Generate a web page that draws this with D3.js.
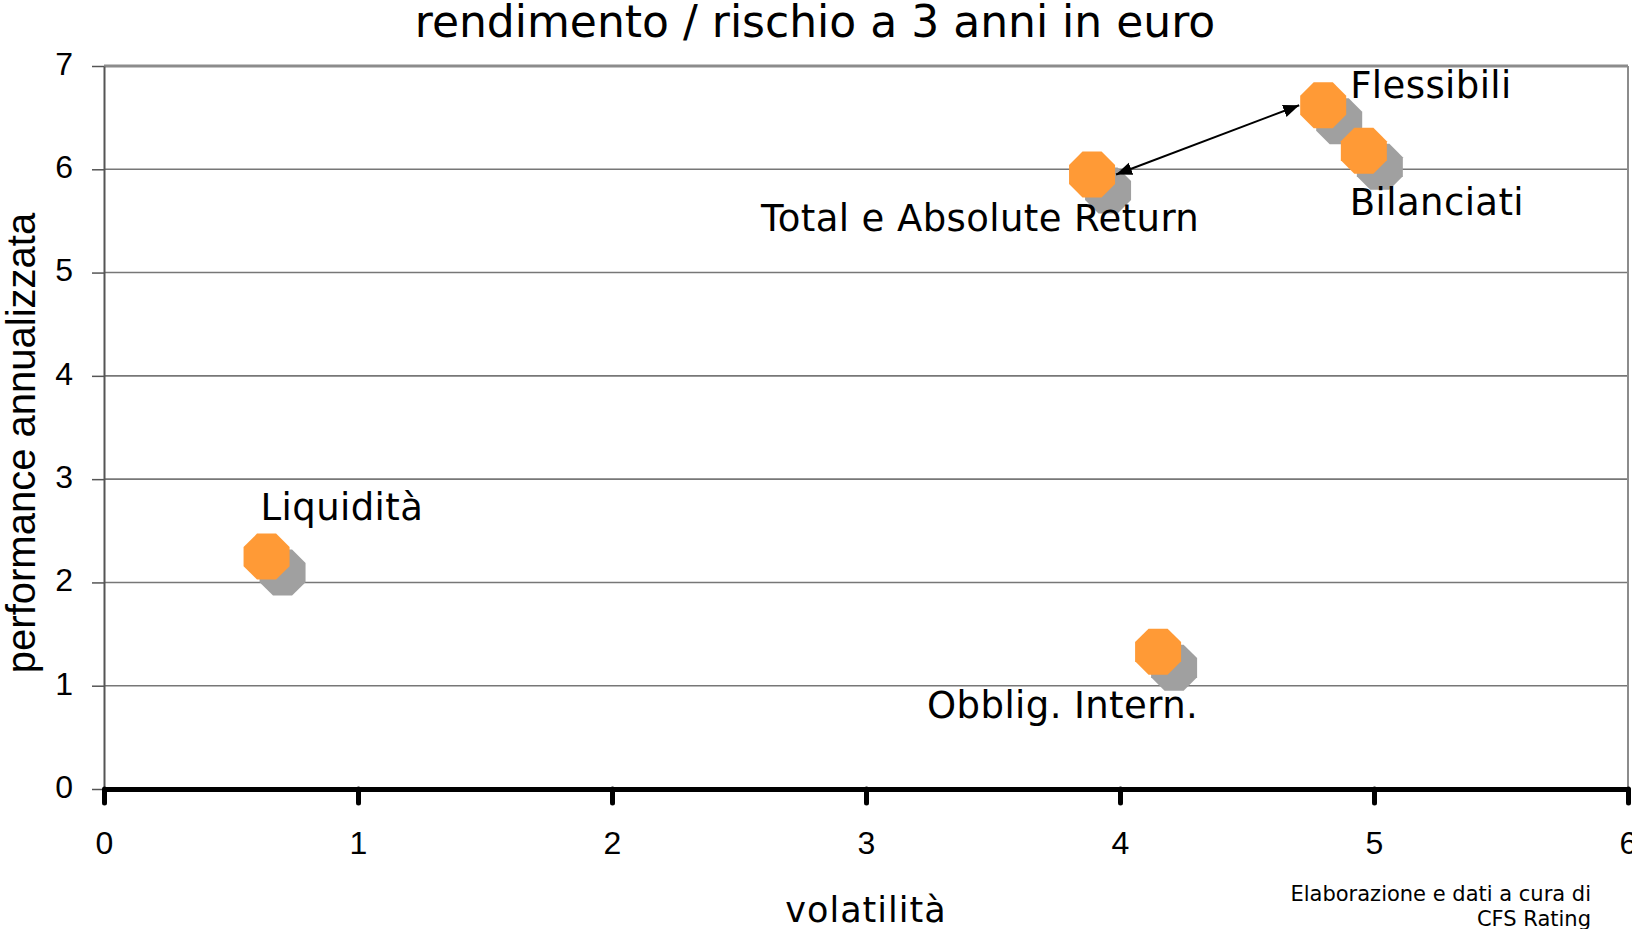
<!DOCTYPE html>
<html lang="it">
<head>
  <meta charset="UTF-8" />
  <title>rendimento / rischio a 3 anni in euro</title>
  <script src="https://d3js.org/d3.v7.min.js"></script>
  <style>
    body {margin: 0; background: #fff;}
    svg {display: block;}
  </style>
</head>
<body>
<script>
  // ****DATA****
  const categories = ["Liquidità", "Obblig. Intern.", "Total e Absolute Return", "Flessibili", "Bilanciati"];
  const volatility = [0.64, 4.15, 3.89, 4.80, 4.96];
  const performance = [2.25, 1.33, 5.95, 6.62, 6.18];
  const xTicks = [0, 1, 2, 3, 4, 5, 6];
  const yTicks = [0, 1, 2, 3, 4, 5, 6, 7];
  const arrowPair = ["Total e Absolute Return", "Flessibili"];

  // label placement relative to each marker (pixels)
  const labelDx = [-6, -231, -331, 27, -14];
  const labelDy = [-37, 66, 57, -7, 64];

  const width = 1632, height = 929;
  const paddingLeft = 104, paddingRight = 4, paddingTop = 66, paddingBottom = 140;
  const arial = "'Liberation Sans', Arial, sans-serif";
  const verdana = "'DejaVu Sans', Verdana, sans-serif";

  const svg = d3.select("body").append("svg")
                .attr("width", width)
                .attr("height", height);

  // ****SCALES****
  const xScale = d3.scaleLinear().domain([0, 6]).range([paddingLeft, width - paddingRight]);
  const yScale = d3.scaleLinear().domain([0, 7]).range([height - paddingBottom, paddingTop]);

  // ****GRIDLINES****
  svg.append("g")
     .selectAll("line")
     .data(yTicks.filter(d => d > 0))
     .join("line")
     .attr("x1", xScale(0))
     .attr("x2", xScale(6))
     .attr("y1", d => yScale(d))
     .attr("y2", d => yScale(d))
     .attr("stroke", d => d === 7 ? "#8c8c8c" : "#777")
     .attr("stroke-width", d => d === 7 ? 3 : 1.6);

  // right border of the plot area
  svg.append("line")
     .attr("x1", xScale(6)).attr("x2", xScale(6))
     .attr("y1", yScale(7)).attr("y2", yScale(0))
     .attr("stroke", "#8c8c8c").attr("stroke-width", 2);

  // ****Y AXIS****
  const yAxis = d3.axisLeft(yScale).tickValues(yTicks).tickFormat(d3.format("d"))
                  .tickSize(12).tickPadding(19).tickSizeOuter(0);
  const gy = svg.append("g")
                .attr("transform", `translate(${paddingLeft}, 0)`)
                .call(yAxis);
  gy.select(".domain").attr("stroke", "#555").attr("stroke-width", 2);
  gy.selectAll(".tick line").attr("stroke", "#555").attr("stroke-width", 1.5);
  gy.selectAll(".tick text")
    .attr("font-family", arial)
    .attr("font-size", 32)
    .attr("fill", "#000")
    .attr("dy", "0.26em");

  // ****X AXIS****
  const xAxis = d3.axisBottom(xScale).tickValues(xTicks).tickFormat(d3.format("d"))
                  .tickSize(14).tickPadding(28).tickSizeOuter(0);
  const gx = svg.append("g")
                .attr("transform", `translate(0, ${height - paddingBottom})`)
                .call(xAxis);
  gx.select(".domain").attr("stroke", "#000").attr("stroke-width", 5);
  gx.selectAll(".tick line").attr("stroke", "#000").attr("stroke-width", 5).attr("stroke-linecap", "round");
  gx.selectAll(".tick text")
    .attr("font-family", arial)
    .attr("font-size", 32)
    .attr("fill", "#000");

  // ****MARKERS****
  const points = categories.map((c, i) => ({name: c, x: volatility[i], y: performance[i], i: i}));
  const R = 24.9;
  const octagon = d3.range(8).map(k => {
    const a = (22.5 + k * 45) * Math.PI / 180;
    return [R * Math.cos(a), R * Math.sin(a)];
  });
  const octPath = d3.line()(octagon) + "Z";

  // grey shadow
  svg.append("g").selectAll("path")
     .data(points)
     .join("path")
     .attr("d", octPath)
     .attr("transform", d => `translate(${xScale(d.x) + 16}, ${yScale(d.y) + 16})`)
     .attr("fill", "#a0a0a0");

  svg.append("g").selectAll("path")
     .data(points)
     .join("path")
     .attr("d", octPath)
     .attr("transform", d => `translate(${xScale(d.x)}, ${yScale(d.y)})`)
     .attr("fill", "#ff9a36");

  // ****ARROW****
  const defs = svg.append("defs");
  ["start", "end"].forEach(k => {
    defs.append("marker")
        .attr("id", "arrow-" + k)
        .attr("viewBox", "0 0 10 10")
        .attr("refX", k === "end" ? 10 : 0)
        .attr("refY", 5)
        .attr("markerWidth", 8)
        .attr("markerHeight", 8)
        .attr("markerUnits", "strokeWidth")
        .attr("orient", "auto")
        .append("path")
        .attr("d", k === "end" ? "M0,1 L10,5 L0,9 Z" : "M10,1 L0,5 L10,9 Z")
        .attr("fill", "#000");
  });
  const pA = points.find(d => d.name === arrowPair[0]);
  const pB = points.find(d => d.name === arrowPair[1]);
  svg.append("line")
     .attr("x1", xScale(pA.x) + 24).attr("y1", yScale(pA.y))
     .attr("x2", xScale(pB.x) - 24).attr("y2", yScale(pB.y))
     .attr("stroke", "#000").attr("stroke-width", 2)
     .attr("marker-start", "url(#arrow-start)")
     .attr("marker-end", "url(#arrow-end)");

  // ****LABELS****
  svg.append("g").selectAll("text")
     .data(points)
     .join("text")
     .attr("x", d => xScale(d.x) + labelDx[d.i])
     .attr("y", d => yScale(d.y) + labelDy[d.i])
     .attr("font-family", verdana)
     .attr("font-size", 37)
     .attr("letter-spacing", 0.4)
     .attr("fill", "#000")
     .text(d => d.name);

  // ****TITLES****
  svg.append("text")
     .attr("x", 815).attr("y", 37)
     .attr("text-anchor", "middle")
     .attr("font-family", verdana)
     .attr("font-size", 44)
     .text("rendimento / rischio a 3 anni in euro");

  svg.append("text")
     .attr("x", xScale(3)).attr("y", 922)
     .attr("text-anchor", "middle")
     .attr("font-family", verdana)
     .attr("font-size", 35)
     .attr("letter-spacing", 1)
     .text("volatilità");

  svg.append("text")
     .attr("transform", `translate(35, 443) rotate(-90)`)
     .attr("text-anchor", "middle")
     .attr("font-family", arial)
     .attr("font-size", 40)
     .text("performance annualizzata");

  const note = svg.append("text")
                  .attr("text-anchor", "end")
                  .attr("font-family", verdana)
                  .attr("font-size", 21);
  note.append("tspan").attr("x", 1591).attr("y", 901).text("Elaborazione e dati a cura di");
  note.append("tspan").attr("x", 1591).attr("y", 926).text("CFS Rating");
</script>
</body>
</html>
